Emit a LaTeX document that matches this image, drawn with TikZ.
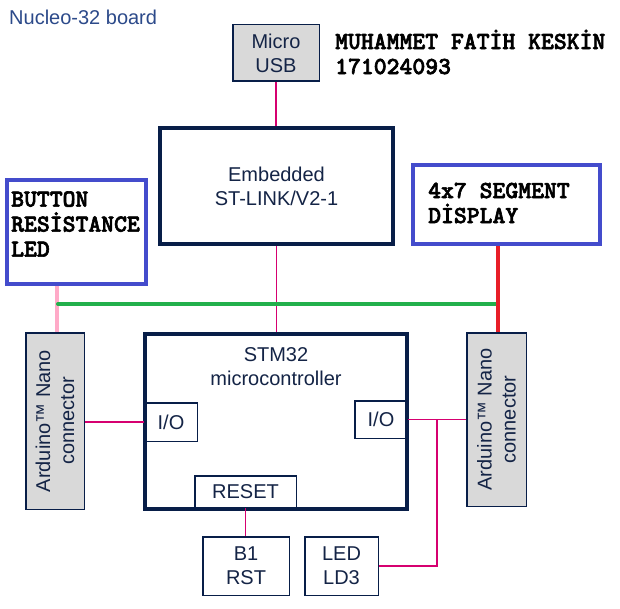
\documentclass[tikz,border=0pt]{standalone}
\usepackage{fontspec}
\setmainfont{Liberation Sans}
\newfontfamily\monobold{lmmonolt10-bold.otf}[FakeBold=2.5]
\definecolor{navy}{RGB}{8,30,72}
\definecolor{navytext}{RGB}{20,36,70}
\definecolor{titleblue}{RGB}{44,74,138}
\definecolor{boxgray}{RGB}{217,217,217}
\definecolor{bluebd}{RGB}{68,76,204}
\definecolor{wirepink}{RGB}{214,0,112}
\definecolor{lightpink}{RGB}{255,170,200}
\definecolor{wiregreen}{RGB}{34,176,76}
\definecolor{wirered}{RGB}{232,30,40}
\newcommand\diagfont{\fontsize{20}{24}\selectfont}
\newcommand\monotextfont{\monobold\fontsize{24.5}{25}\selectfont}
\begin{document}
\begin{tikzpicture}[x=1pt,y=-1pt,
  thinbox/.style={draw=navy, line width=1.5pt, fill=white, inner sep=0pt, align=center, text=navytext, font=\diagfont},
  graybox/.style={thinbox, fill=boxgray},
  thickbox/.style={draw=navy, line width=4pt, inner sep=0pt},
  bluebox/.style={draw=bluebd, line width=4pt, fill=white, inner sep=0pt},
  sanslabel/.style={align=center, text=navytext, font=\diagfont, inner sep=0pt},
  monolabel/.style={align=left, text=black, font=\monotextfont, inner sep=0pt},
  wire/.style={draw=wirepink, line width=1.5pt},
  pinkwire/.style={draw=lightpink, line width=4pt},
  greenwire/.style={draw=wiregreen, line width=4pt, line cap=round},
  redwire/.style={draw=wirered, line width=4pt}
]
\useasboundingbox (0,0) rectangle (620,609);
\fill[white] (0,0) rectangle (620,609);

% title and author
\node[anchor=base west, inner sep=0pt, font=\diagfont, text=titleblue] (title) at (9,25) {Nucleo-32 board};
\node[monolabel, anchor=west] (name) at (335,52) {MUHAMMET FATİH KESKİN\\171024093};

% boxes
\node[graybox, minimum width=86.5, minimum height=56.5] (usb) at (276,53) {Micro\\USB};
\node[thickbox, fill=white, minimum width=233, minimum height=116, align=center, text=navytext, font=\diagfont] (emb) at (276.5,186) {Embedded\\ST-LINK/V2-1};

\node[bluebox, minimum width=139, minimum height=104] (btn) at (76.5,232) {};
\node[monolabel, anchor=west] (btntext) at (11,224) {BUTTON\\RESİSTANCE\\LED};
\node[bluebox, minimum width=187, minimum height=79] (seg) at (506.5,204.5) {};
\node[monolabel, anchor=west] (segtext) at (428,203) {4x7 SEGMENT\\DİSPLAY};

\node[graybox, minimum width=58.5, minimum height=176.5] (ardL) at (55,421) {};
\node[sanslabel, rotate=90] (ardLtext) at (ardL.center) {Arduino™ Nano\\connector};
\node[graybox, minimum width=59.5, minimum height=173.5] (ardR) at (496.5,419.5) {};
\node[sanslabel, rotate=90] (ardRtext) at (ardR.center) {Arduino™ Nano\\connector};

\node[thinbox, minimum width=52.5, minimum height=38.5] (ioL) at (171,422) {I/O};
\node[thinbox, minimum width=52.5, minimum height=37.5] (ioR) at (381,419.5) {I/O};
\node[thinbox, minimum width=101.5, minimum height=31.5] (rst) at (245.5,491.5) {RESET};
\node[thickbox, minimum width=262, minimum height=175] (stm) at (276,421.5) {};
\node[sanslabel] (stmtext) at (276,366.5) {STM32\\microcontroller};

\node[thinbox, minimum width=86.5, minimum height=58.5] (b1) at (246,566) {B1\\RST};
\node[thinbox, minimum width=73.5, minimum height=58.5] (led) at (341.5,566) {LED\\LD3};

% connectors
\draw[wire] (usb.south) -- (usb.south |- emb.north);
\draw[wire] (emb.south) -- (emb.south |- stm.north);
\draw[wire] (ioL.west) -- (ioL.west -| ardL.east);
\draw[wire] (ioR.east) -- (ioR.east -| ardR.west);
\coordinate (jR) at (437,419.5);
\draw[wire] (jR) |- (led.east);
\draw[wire] (rst.south) -- (rst.south |- b1.north);

\draw[pinkwire] ([xshift=2pt]ardL.north) -- ([xshift=2pt]ardL.north |- btn.south);
\coordinate (gL) at (58,304);
\coordinate (gR) at (497,304);
\draw[greenwire] (gL) -- (gR);
\draw[redwire] ([xshift=1.5pt]ardR.north) -- ([xshift=1.5pt]ardR.north |- seg.south);
\end{tikzpicture}
\end{document}
